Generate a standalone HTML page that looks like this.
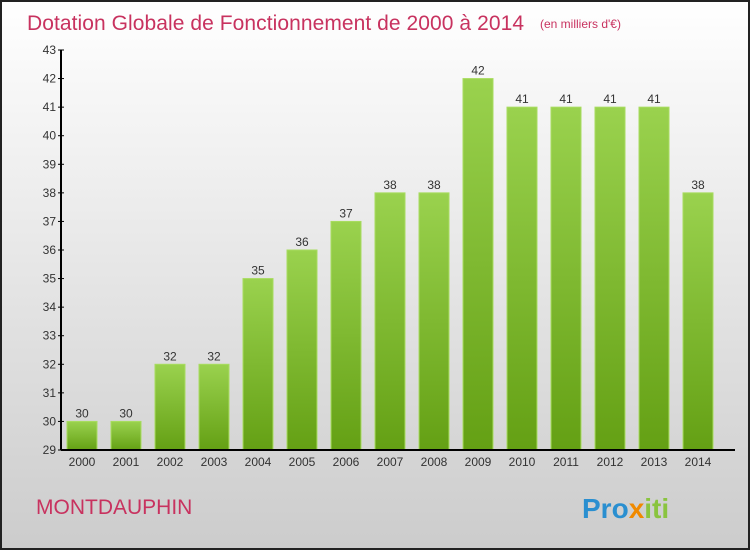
<!DOCTYPE html>
<html><head><meta charset="utf-8"><style>
body{margin:0;width:750px;height:550px;overflow:hidden;font-family:"Liberation Sans",sans-serif}
</style></head><body>
<svg width="750" height="550">
<defs>
<linearGradient id="bg" x1="0" y1="0" x2="0" y2="1"><stop offset="0" stop-color="#ffffff"/><stop offset="1" stop-color="#cccccc"/></linearGradient>
<linearGradient id="bar" x1="0" y1="0" x2="0" y2="1"><stop offset="0" stop-color="#9ad24e"/><stop offset="1" stop-color="#64a014"/></linearGradient>
</defs>
<rect x="1" y="1" width="748" height="548" fill="url(#bg)" stroke="#222" stroke-width="2"/>
<text x="27" y="30" font-size="21" fill="#c8325f" textLength="497">Dotation Globale de Fonctionnement de 2000 à 2014</text>
<text x="540" y="28" font-size="12" fill="#c8325f">(en milliers d'€)</text>
<text x="36" y="514" font-size="21" fill="#c8325f">MONTDAUPHIN</text>
<text x="582" y="518" font-size="28" font-weight="bold"><tspan fill="#2a8fd0">Pro</tspan><tspan fill="#f08a00">x</tspan><tspan fill="#8ac43f">iti</tspan></text>
<g id="plot"></g>
</svg>
<script>
const years=["2000","2001","2002","2003","2004","2005","2006","2007","2008","2009","2010","2011","2012","2013","2014"];
const values=[30,30,32,32,35,36,37,38,38,42,41,41,41,41,38];
const ticks=[29,30,31,32,33,34,35,36,37,38,39,40,41,42,43];
const NS="http://www.w3.org/2000/svg",g=document.getElementById('plot');
const yMin=29,yMax=43,top0=50,bot=450,x0=61;
const y=v=>bot-(v-yMin)/(yMax-yMin)*(bot-top0);
const xc=i=>82+i*44;
function mk(t,a,txt){const e=document.createElementNS(NS,t);for(const k in a)e.setAttribute(k,a[k]);if(txt!=null)e.textContent=txt;g.appendChild(e);return e;}
values.forEach((v,i)=>{
 const r=mk('rect',{x:xc(i)-15,y:y(v),width:30,height:bot-y(v),fill:'url(#bar)',stroke:'#a8dc60','stroke-width':1});
 
 
 const l=mk('text',{x:xc(i),y:y(v)-4,'font-size':12,fill:'#333','text-anchor':'middle'},String(v));
 
 
 const t=mk('text',{x:xc(i),y:466,'font-size':12,fill:'#333','text-anchor':'middle'},years[i]);
 
 
});
ticks.forEach(v=>{
 const tk=mk('line',{x1:x0-3,x2:x0+3,y1:y(v),y2:y(v),stroke:'#000'});
 
 
 const t=mk('text',{x:x0-5,y:y(v)+4,'font-size':12,fill:'#333','text-anchor':'end'},String(v));
 
 
});
const ya=mk('line',{x1:x0,x2:x0,y1:top0,y2:bot,stroke:'#000','stroke-width':2});


const xa=mk('line',{x1:x0,x2:735,y1:bot,y2:bot,stroke:'#000','stroke-width':2});


</script>
</body></html>
